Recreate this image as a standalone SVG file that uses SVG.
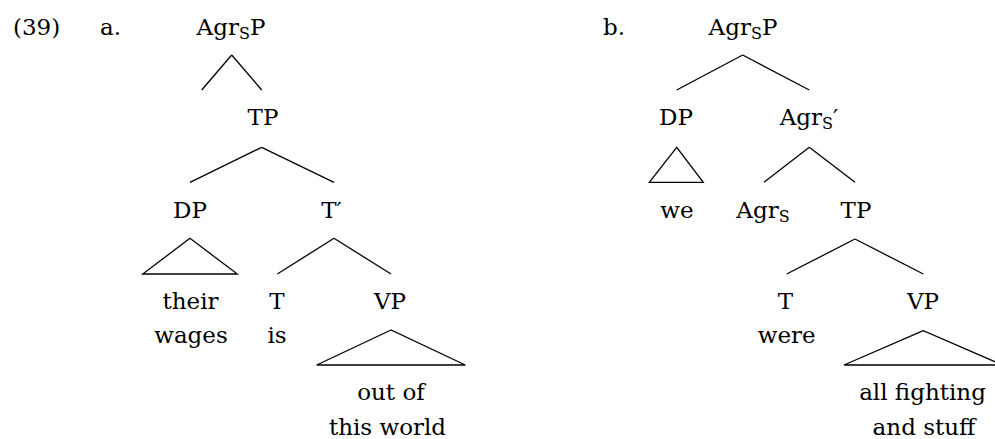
<svg xmlns="http://www.w3.org/2000/svg" width="995" height="439" viewBox="0 0 995 439">
<style>
text{font-family:"DejaVu Serif","Liberation Serif",serif;font-size:23px;fill:#000;text-anchor:middle}
.st{text-anchor:start}
.sub{font-size:16px}
line,polygon{stroke:#000;stroke-width:1.3;fill:none}
</style>
<rect width="995" height="439" fill="#fff"/>
<g id="labels">
<text class="st" x="13" y="35">(39)</text>
<text class="st" x="100" y="35">a.</text>
<text class="st" x="603" y="35">b.</text>
</g>
<g id="connectors">
<line x1="231.7" y1="55" x2="201.7" y2="90"/>
<line x1="231.7" y1="55" x2="261.7" y2="90"/>
<line x1="261.7" y1="147.3" x2="190" y2="182.3"/>
<line x1="261.7" y1="147.3" x2="334" y2="182.3"/>
<polygon points="190,238.3 142.7,274 237.3,274"/>
<line x1="334" y1="238.3" x2="277.3" y2="274"/>
<line x1="334" y1="238.3" x2="391" y2="274"/>
<polygon points="391,330 316.7,365 465.3,365"/>
<line x1="742.7" y1="55" x2="676.7" y2="90"/>
<line x1="742.7" y1="55" x2="809.3" y2="90"/>
<polygon points="676.7,147.3 649.3,182.3 703.3,182.3"/>
<line x1="809.3" y1="147.3" x2="764" y2="182.3"/>
<line x1="809.3" y1="147.3" x2="855" y2="182.3"/>
<line x1="855" y1="239" x2="786.7" y2="274"/>
<line x1="855" y1="239" x2="923.3" y2="274"/>
<polygon points="923.3,330.7 844,365 1002.6,365"/>
</g>
<g id="a-agrsp"><text x="231" y="35">Agr<tspan class="sub" dy="4">S</tspan><tspan dy="-4">P</tspan></text></g>
<g id="a-tp"><text x="263" y="125">TP</text></g>
<g id="a-dp"><text x="190" y="218">DP</text></g>
<g id="a-tbar"><text x="331.5" y="218">T′</text></g>
<g id="a-their-wages"><text x="190.5" y="309">their</text><text x="191" y="343">wages</text></g>
<g id="a-t"><text x="277" y="309">T</text><text x="277" y="343">is</text></g>
<g id="a-vp"><text x="390" y="309">VP</text></g>
<g id="a-vp-leaf"><text x="391" y="400">out of</text><text x="387.5" y="435">this world</text></g>
<g id="b-agrsp"><text x="743" y="35">Agr<tspan class="sub" dy="4">S</tspan><tspan dy="-4">P</tspan></text></g>
<g id="b-dp"><text x="676" y="125">DP</text></g>
<g id="b-agrsbar"><text x="809" y="125">Agr<tspan class="sub" dy="4">S</tspan><tspan dy="-4">′</tspan></text></g>
<g id="b-we"><text x="677" y="218">we</text></g>
<g id="b-agrs"><text x="763" y="218">Agr<tspan class="sub" dy="4">S</tspan></text></g>
<g id="b-tp"><text x="856" y="218">TP</text></g>
<g id="b-t"><text x="785.5" y="309">T</text><text x="786.7" y="343">were</text></g>
<g id="b-vp"><text x="923" y="309">VP</text></g>
<g id="b-vp-leaf"><text x="922.5" y="400">all fighting</text><text x="924" y="435">and stuff</text></g>
</svg>
